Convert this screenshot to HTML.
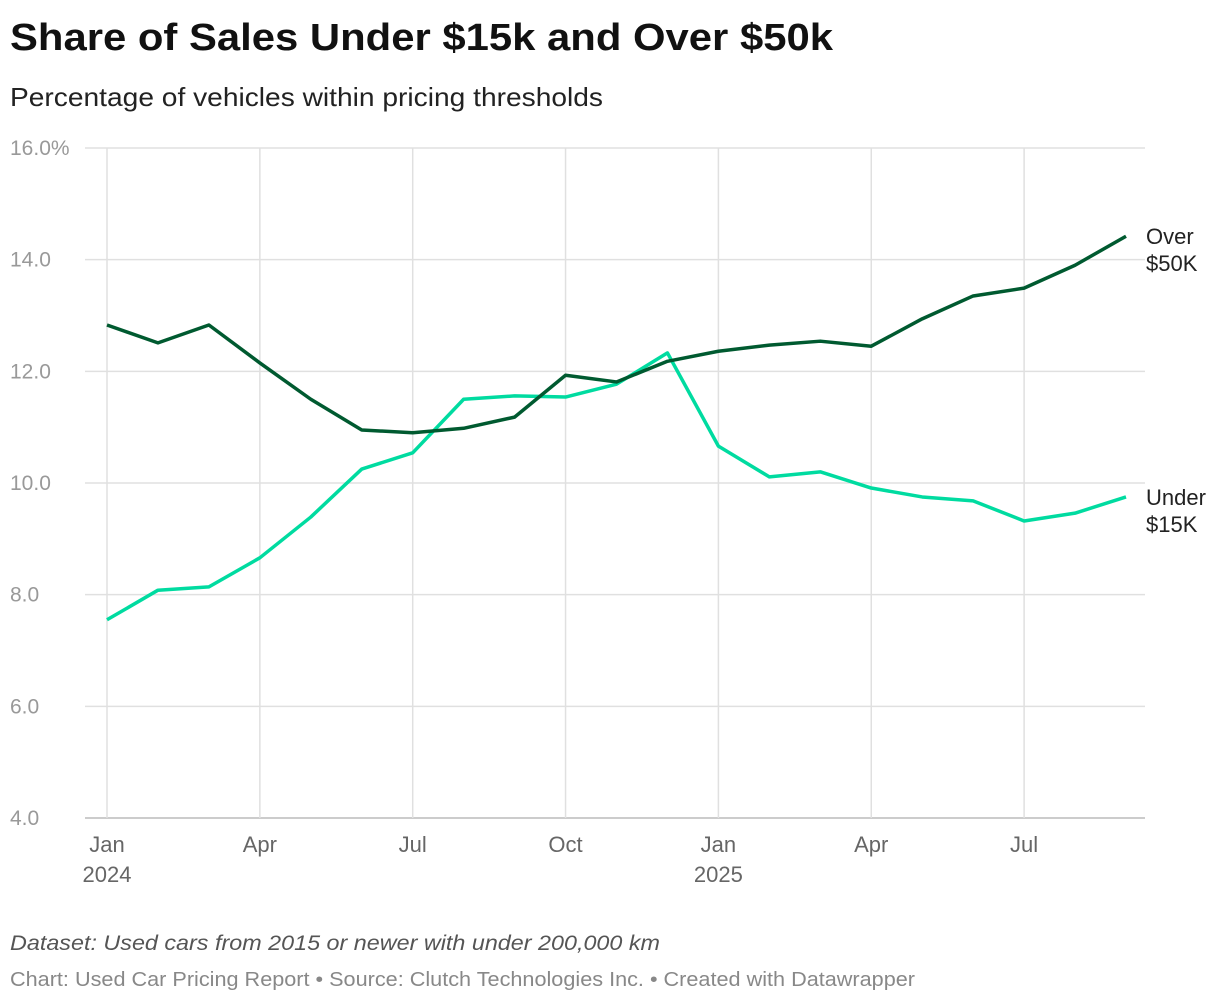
<!DOCTYPE html>
<html><head><meta charset="utf-8"><style>
body{margin:0;background:#fff;width:1220px;height:1002px;overflow:hidden;font-family:"Liberation Sans",sans-serif}
</style></head><body>
<svg width="1220" height="1002">
<text x="10" y="50" font-size="38" font-weight="bold" fill="#111" textLength="823" lengthAdjust="spacingAndGlyphs">Share of Sales Under $15k and Over $50k</text>
<text x="10" y="106" font-size="26" fill="#222" textLength="593" lengthAdjust="spacingAndGlyphs">Percentage of vehicles within pricing thresholds</text>
<g id="grid"></g><g id="lines"></g>
<text x="10" y="950" font-size="21" font-style="italic" fill="#555" textLength="650" lengthAdjust="spacingAndGlyphs">Dataset: Used cars from 2015 or newer with under 200,000 km</text>
<text x="10" y="986" font-size="20" fill="#888" textLength="905" lengthAdjust="spacingAndGlyphs">Chart: Used Car Pricing Report • Source: Clutch Technologies Inc. • Created with Datawrapper</text>
</svg>
<script>
const yTicks=[4,6,8,10,12,14,16];
const yTickLabels=["4.0","6.0","8.0","10.0","12.0","14.0","16.0%"];
const xTickIdx=[0,3,6,9,12,15,18];
const xTickLabels=["Jan","Apr","Jul","Oct","Jan","Apr","Jul"];
const over50k=[12.83,12.51,12.83,12.15,11.50,10.95,10.90,10.98,11.18,11.93,11.81,12.18,12.36,12.47,12.54,12.45,12.94,13.35,13.49,13.90,14.42];
const under15k=[7.55,8.08,8.14,8.66,9.39,10.25,10.54,11.50,11.56,11.54,11.77,12.33,10.66,10.11,10.20,9.91,9.75,9.68,9.32,9.46,9.75];
const NS="http://www.w3.org/2000/svg";
const y=v=>148+(16-v)*(670/12);
const x=i=>107+i*(1126-107)/20;
function mk(t,a,p){const e=document.createElementNS(NS,t);for(const k in a)e.setAttribute(k,a[k]);p.appendChild(e);return e;}
const g=document.getElementById('grid'),L=document.getElementById('lines');
yTicks.forEach((v,i)=>{
 const l=mk('line',{x1:85,x2:1145,y1:y(v),y2:y(v),stroke:i==0?'#bbb':'#e0e0e0','stroke-width':1.5},g);
 
 
 const t=mk('text',{x:10,y:y(v)+7,'font-size':21,fill:'#999'},g);t.textContent=yTickLabels[i];
 
 
});
xTickIdx.forEach((ix,i)=>{
 const l=mk('line',{x1:x(ix),x2:x(ix),y1:148,y2:818,stroke:'#e0e0e0','stroke-width':1.5},g);
 
 
 const t=mk('text',{x:x(ix),y:852,'font-size':22,fill:'#666','text-anchor':'middle'},g);t.textContent=xTickLabels[i];
 
 
});
[[0,"2024"],[12,"2025"]].forEach(([ix,s])=>{const t=mk('text',{x:x(ix),y:882,'font-size':22,fill:'#666','text-anchor':'middle'},g);t.textContent=s;
 
 });
function line(d,c,name,lab){
 const p=mk('polyline',{points:d.map((v,i)=>x(i)+','+y(v)).join(' '),fill:'none',stroke:c,'stroke-width':3.5,'stroke-linejoin':'round'},L);
 
 
 const ly=y(d[d.length-1]);
 lab.forEach((s,k)=>{const t=mk('text',{x:1146,y:ly+8+k*27,'font-size':22,fill:'#222'},L);t.textContent=s;
 
 });
}
line(under15k,'#00dba0','under-15k-line',['Under','$15K']);
line(over50k,'#005a30','over-50k-line',['Over','$50K']);
</script>
</body></html>
